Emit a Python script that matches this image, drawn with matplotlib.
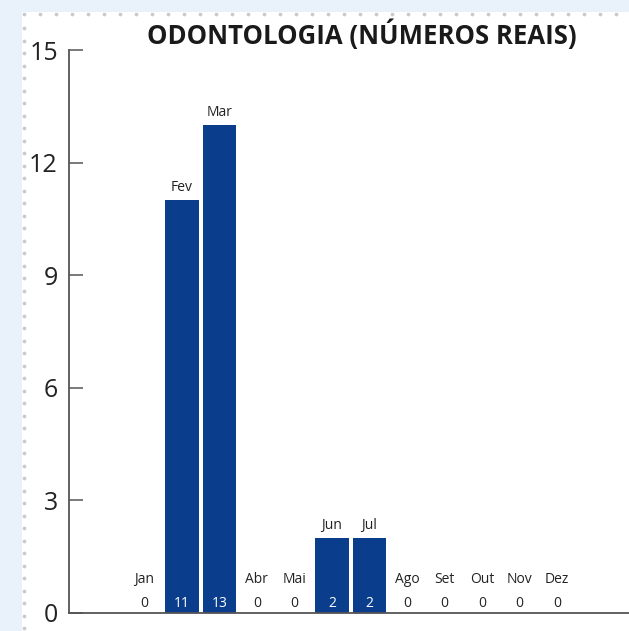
import matplotlib
matplotlib.use('Agg')
import matplotlib.pyplot as plt
from matplotlib.patches import Rectangle
import numpy as np

plt.rcParams['font.family'] = ['Open Sans', 'DejaVu Sans']

months = ['Jan', 'Fev', 'Mar', 'Abr', 'Mai', 'Jun', 'Jul', 'Ago', 'Set', 'Out', 'Nov', 'Dez']
values = [0, 11, 13, 0, 0, 2, 2, 0, 0, 0, 0, 0]
yticks = [0, 3, 6, 9, 12, 15]
title = 'ODONTOLOGIA (NÚMEROS REAIS)'

W, H = 629, 631
bar_color = '#0a3d8c'
axis_color = '#555555'

fig = plt.figure(figsize=(W / 100, H / 100), dpi=100, facecolor='#e9f1fa')

# white card with dotted border
card = Rectangle((22 / W, 0), 1, 1 - 12 / H, transform=fig.transFigure,
                 facecolor='white', edgecolor='none', zorder=-10)
fig.patches.append(card)
dot_x = np.arange(24, W, 16)
fig.add_artist(plt.Line2D(dot_x / W, np.full(len(dot_x), 1 - 14 / H), transform=fig.transFigure,
                          linestyle='none', marker='o', markersize=2.7, color='#c8cacd',
                          markeredgewidth=0, zorder=-5))
dot_y = np.arange(28, H, 12.5)
fig.add_artist(plt.Line2D(np.full(len(dot_y), 24 / W), 1 - dot_y / H, transform=fig.transFigure,
                          linestyle='none', marker='o', markersize=2.7, color='#c8cacd',
                          markeredgewidth=0, zorder=-5))

ax = fig.add_axes([69 / W, 18 / H, 1 - 69 / W, (613 - 50) / H])
ax.set_facecolor('none')

x = np.arange(len(months))
ax.bar(x, values, width=0.9, color=bar_color, zorder=2)

for xi, m, v in zip(x, months, values):
    ax.text(xi, 0.25, str(v), ha='center', va='center', fontsize=10,
            color='white' if v > 0 else '#222222', zorder=3)
    ax.text(xi, max(v, 0.55) + 0.33, m, ha='center', va='center', fontsize=10,
            color='#222222', zorder=3)

ax.set_xlim(-2.01, 12.92)
ax.set_ylim(0, 15)
ax.set_xticks([])
ax.set_yticks(yticks)
ax.tick_params(axis='y', direction='in', length=10, width=1.1, color=axis_color,
               labelsize=18, labelcolor='#222222', pad=8)

for s in ['top', 'right']:
    ax.spines[s].set_visible(False)
for s in ['left', 'bottom']:
    ax.spines[s].set_color(axis_color)
    ax.spines[s].set_linewidth(1.3)

fig.text(362 / W, 1 - 35 / H, title, ha='center', va='center', fontsize=18.5,
         fontweight='bold', color='#1a1a1a')

fig.savefig('out.png', dpi=100, facecolor=fig.get_facecolor())
